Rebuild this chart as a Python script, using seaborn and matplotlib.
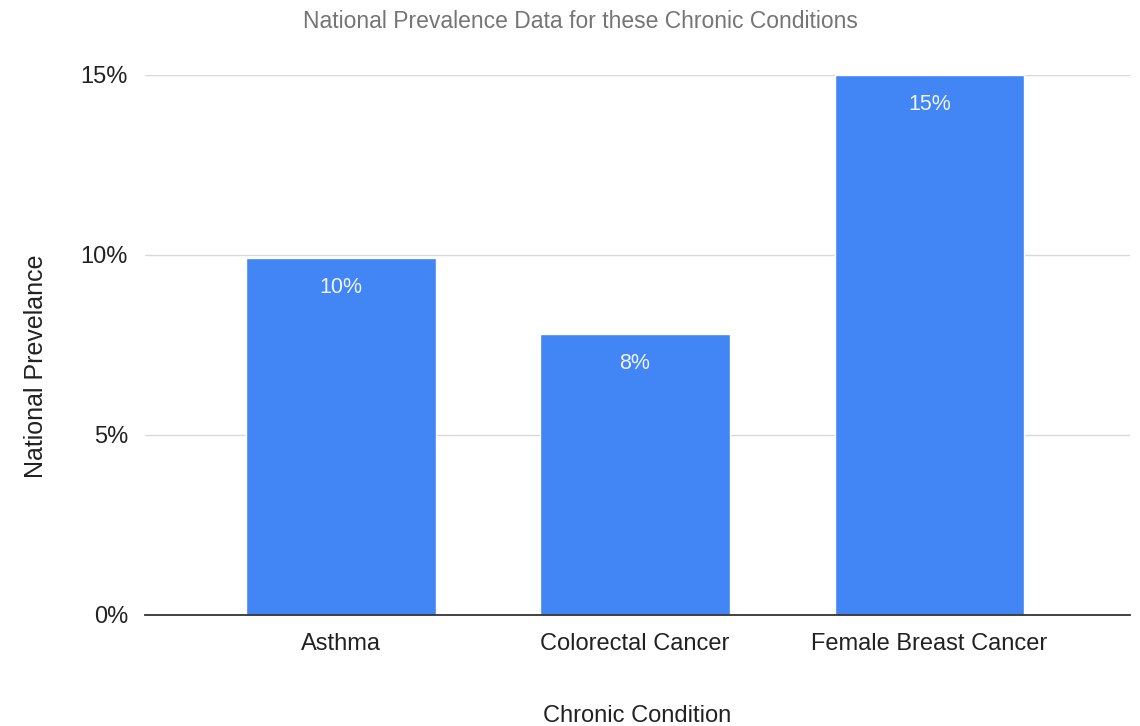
import matplotlib
matplotlib.use('Agg')
import matplotlib.pyplot as plt
import seaborn as sns
import pandas as pd
from matplotlib.ticker import FuncFormatter

# Data
conditions = ['Asthma', 'Colorectal Cancer', 'Female Breast Cancer']
prevalence = [9.9, 7.8, 15.0]
bar_labels = ['10%', '8%', '15%']

df = pd.DataFrame({'condition': conditions, 'prevalence': prevalence})

sns.set_theme(style='white')
plt.rcParams['font.family'] = ['Liberation Sans', 'DejaVu Sans']

fig = plt.figure(figsize=(11.4, 7.26), dpi=100)
ax = fig.add_axes([0.127, 0.153, 0.864, 0.744])

sns.barplot(data=df, x='condition', y='prevalence', color='#4285F4',
            saturation=1, width=0.645, ax=ax)

ax.set_ylim(0, 15)
ax.set_xlim(-0.665, 2.68)
ax.set_yticks([0, 5, 10, 15])
ax.yaxis.set_major_formatter(FuncFormatter(lambda v, p: f'{v:.0f}%'))
ax.grid(axis='y', color='#d9d9d9', linewidth=1)
ax.set_axisbelow(True)
for s in ['top', 'right', 'left']:
    ax.spines[s].set_visible(False)
ax.spines['bottom'].set_color('#333333')
ax.spines['bottom'].set_linewidth(1.3)
ax.tick_params(axis='both', length=0, labelsize=17, colors='#222222')
ax.tick_params(axis='x', pad=13)
ax.tick_params(axis='y', pad=12)

# Labels inside the bars
for bar, lab in zip(ax.patches, bar_labels):
    ax.text(bar.get_x() + bar.get_width() / 2, bar.get_height() - 0.82, lab,
            ha='center', va='center', color='#f0f4ff', fontsize=15.5)

ax.set_xlabel('Chronic Condition', fontsize=17, color='#222222', labelpad=36)
ax.set_ylabel('National Prevelance', fontsize=18, color='#222222', labelpad=22)
ax.yaxis.set_label_coords(-0.098, 0.46)
fig.text(0.509, 0.97, 'National Prevalence Data for these Chronic Conditions',
         ha='center', va='center', fontsize=16.5, color='#757575')

fig.savefig('out.png', dpi=100)
